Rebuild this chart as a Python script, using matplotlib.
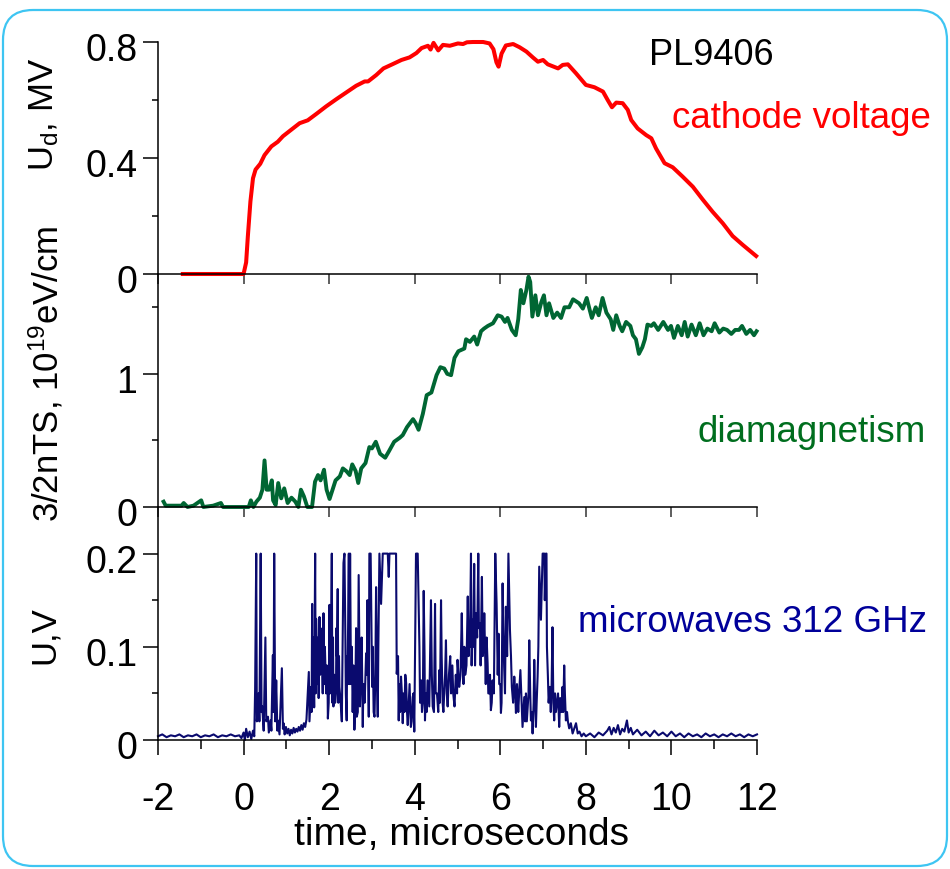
import matplotlib
matplotlib.use("Agg")
import matplotlib.pyplot as plt
from matplotlib.patches import FancyBboxPatch
import matplotlib.transforms as mtransforms

plt.rcParams['font.family'] = ['Liberation Sans', 'DejaVu Sans']
plt.rcParams['mathtext.fontset'] = 'custom'
plt.rcParams['mathtext.rm'] = 'Liberation Sans'
plt.rcParams['mathtext.it'] = 'Liberation Sans:italic'
plt.rcParams['mathtext.default'] = 'regular'

# ---------------- data ----------------
x_ticks = [-2, 0, 2, 4, 6, 8, 10, 12]
x_tick_labels = ["-2", "0", "2", "4", "6", "8", "10", "12"]

cv_time = [-1.42, 0.0, 0.06, 0.1, 0.16, 0.22, 0.28, 0.39, 0.49, 0.65,
           0.8, 0.92, 1.11, 1.31, 1.5, 1.7, 1.93, 2.17, 2.4, 2.63,
           2.83, 2.91, 3.1, 3.27, 3.49, 3.69, 3.88, 4.04, 4.16, 4.31,
           4.37, 4.44, 4.55, 4.66, 4.82, 5.01, 5.13, 5.22, 5.36, 5.6,
           5.75, 5.84, 5.91, 5.96, 6.03, 6.13, 6.3, 6.45, 6.61, 6.76,
           6.88, 7.0, 7.11, 7.35, 7.46, 7.58, 7.77, 8.0, 8.2, 8.4,
           8.51, 8.61, 8.71, 8.86, 8.98, 9.06, 9.21, 9.41, 9.53, 9.64,
           9.84, 10.03, 10.26, 10.5, 10.73, 10.96, 11.2, 11.43, 11.67, 11.98]
cv_mv = [0, 0, 0.04, 0.13, 0.25, 0.33, 0.36, 0.38, 0.41, 0.44,
         0.456, 0.475, 0.497, 0.52, 0.53, 0.552, 0.578, 0.603, 0.626, 0.649,
         0.664, 0.664, 0.686, 0.709, 0.724, 0.738, 0.747, 0.762, 0.779, 0.787,
         0.774, 0.797, 0.771, 0.79, 0.787, 0.795, 0.793, 0.799, 0.8, 0.8,
         0.795, 0.775, 0.73, 0.715, 0.76, 0.788, 0.793, 0.782, 0.767, 0.747,
         0.732, 0.738, 0.723, 0.709, 0.721, 0.723, 0.692, 0.652, 0.644, 0.629,
         0.6, 0.575, 0.591, 0.589, 0.566, 0.531, 0.502, 0.479, 0.468, 0.433,
         0.382, 0.368, 0.336, 0.301, 0.257, 0.215, 0.175, 0.131, 0.1, 0.062]

dia_time = [-1.87, -1.82, -1.45, -1.4, -1.31, -1.17, -0.99, -0.94, -0.71, -0.53,
            -0.48, 0.12, 0.17, 0.23, 0.3, 0.38, 0.44, 0.49, 0.54, 0.6,
            0.66, 0.69, 0.75, 0.81, 0.88, 0.95, 1.03, 1.12, 1.21, 1.28,
            1.34, 1.41, 1.49, 1.6, 1.67, 1.74, 1.8, 1.88, 1.94, 2.01,
            2.08, 2.15, 2.25, 2.32, 2.4, 2.48, 2.54, 2.62, 2.68, 2.75,
            2.85, 2.94, 3.0, 3.09, 3.19, 3.31, 3.4, 3.52, 3.65, 3.72,
            3.82, 3.96, 4.02, 4.09, 4.19, 4.28, 4.39, 4.51, 4.6, 4.69,
            4.76, 4.85, 4.93, 5.02, 5.16, 5.2, 5.29, 5.39, 5.46, 5.55,
            5.62, 5.71, 5.83, 5.94, 6.03, 6.11, 6.17, 6.27, 6.36, 6.42,
            6.48, 6.54, 6.61, 6.66, 6.7, 6.75, 6.82, 6.88, 6.96, 7.02,
            7.08, 7.14, 7.24, 7.33, 7.42, 7.5, 7.61, 7.7, 7.84, 7.93,
            8.02, 8.09, 8.14, 8.23, 8.3, 8.39, 8.48, 8.58, 8.64, 8.71,
            8.79, 8.85, 8.94, 9.04, 9.1, 9.17, 9.24, 9.32, 9.38, 9.44,
            9.53, 9.59, 9.69, 9.81, 9.92, 9.99, 10.06, 10.15, 10.24, 10.31,
            10.38, 10.47, 10.57, 10.66, 10.75, 10.84, 10.94, 11.01, 11.12, 11.21,
            11.3, 11.4, 11.49, 11.58, 11.65, 11.75, 11.84, 11.93, 11.99]
dia_energy = [0.04, 0.01, 0.01, 0.03, 0.0, 0.01, 0.05, 0.0, 0.01, 0.03,
              0.0, 0.0, 0.05, 0.0, 0.04, 0.07, 0.13, 0.35, 0.13, 0.13,
              0.2, 0.05, 0.015, 0.18, 0.065, 0.14, 0.03, 0.07, 0.04, 0.0,
              0.13, 0.08, 0.0, 0.0, 0.19, 0.24, 0.2, 0.28, 0.13, 0.06,
              0.13, 0.2, 0.23, 0.29, 0.27, 0.24, 0.32, 0.27, 0.18, 0.29,
              0.33, 0.45, 0.44, 0.49, 0.4, 0.37, 0.42, 0.49, 0.52, 0.54,
              0.6, 0.66, 0.63, 0.58, 0.7, 0.84, 0.86, 0.99, 1.05, 1.04,
              1.0, 0.99, 1.12, 1.17, 1.19, 1.26, 1.24, 1.28, 1.22, 1.32,
              1.34, 1.36, 1.38, 1.44, 1.43, 1.39, 1.42, 1.33, 1.29, 1.41,
              1.63, 1.53, 1.63, 1.73, 1.69, 1.43, 1.59, 1.44, 1.54, 1.59,
              1.44, 1.53, 1.42, 1.46, 1.42, 1.5, 1.5, 1.56, 1.53, 1.49,
              1.57, 1.48, 1.42, 1.5, 1.44, 1.57, 1.46, 1.41, 1.33, 1.44,
              1.36, 1.32, 1.39, 1.36, 1.29, 1.26, 1.15, 1.2, 1.26, 1.37,
              1.36, 1.38, 1.33, 1.39, 1.33, 1.36, 1.27, 1.36, 1.29, 1.39,
              1.28, 1.37, 1.29, 1.38, 1.29, 1.34, 1.32, 1.38, 1.31, 1.34,
              1.33, 1.3, 1.33, 1.33, 1.36, 1.3, 1.33, 1.29, 1.32]

mw_time = [-2.0, -1.9, -1.8, -1.7, -1.6, -1.5, -1.4, -1.3, -1.2, -1.1,
           -1.0, -0.9, -0.8, -0.7, -0.6, -0.5, -0.4, -0.3, -0.2, -0.1,
           -0.05, 0.0, 0.03, 0.06, 0.1, 0.14, 0.18, 0.22, 0.25, 0.27,
           0.296, 0.31, 0.35, 0.37, 0.40, 0.42, 0.436, 0.47, 0.51, 0.53,
           0.57, 0.59, 0.63, 0.65, 0.685, 0.70, 0.716, 0.74, 0.763, 0.79,
           0.80, 0.84, 0.895, 0.92, 0.934, 0.96, 0.99, 1.02, 1.05, 1.08,
           1.11, 1.14, 1.17, 1.2, 1.23, 1.26, 1.29, 1.32, 1.35, 1.38,
           1.41, 1.44, 1.47, 1.525, 1.54, 1.58, 1.59, 1.603, 1.61, 1.634,
           1.673, 1.685, 1.71, 1.725, 1.774, 1.79, 1.81, 1.83, 1.868, 1.88,
           1.93, 1.945, 1.97, 2.008, 2.02, 2.062, 2.075, 2.10, 2.12, 2.16,
           2.18, 2.20, 2.215, 2.24, 2.296, 2.31, 2.335, 2.358, 2.38, 2.41,
           2.43, 2.46, 2.47, 2.49, 2.53, 2.55, 2.59, 2.61, 2.646, 2.69,
           2.72, 2.74, 2.786, 2.80, 2.864, 2.895, 2.926, 2.94, 2.97, 3.004,
           3.06, 3.08, 3.097, 3.136, 3.175, 3.214, 3.253, 3.30, 3.37, 3.393,
           3.41, 3.5, 3.564, 3.58, 3.626, 3.64, 3.68, 3.72, 3.74, 3.80,
           3.837, 3.86, 3.91, 3.953, 3.99, 4.03, 4.07, 4.11, 4.125, 4.15,
           4.17, 4.21, 4.24, 4.26, 4.30, 4.34, 4.38, 4.42, 4.475, 4.49,
           4.52, 4.576, 4.59, 4.615, 4.654, 4.69, 4.73, 4.77, 4.80, 4.85,
           4.88, 4.93, 4.96, 5.0, 5.04, 5.10, 5.12, 5.16, 5.18, 5.24,
           5.26, 5.276, 5.315, 5.354, 5.39, 5.43, 5.486, 5.50, 5.525, 5.57,
           5.59, 5.626, 5.704, 5.743, 5.78, 5.82, 5.883, 5.914, 5.96, 5.975,
           6.015, 6.054, 6.09, 6.13, 6.19, 6.226, 6.27, 6.327, 6.366, 6.39,
           6.44, 6.47, 6.52, 6.56, 6.58, 6.64, 6.677, 6.716, 6.755, 6.794,
           6.833, 6.872, 6.91, 6.95, 6.99, 7.03, 7.04, 7.066, 7.08, 7.113,
           7.16, 7.18, 7.22, 7.26, 7.28, 7.315, 7.377, 7.40, 7.455, 7.494,
           7.533, 7.56, 7.61, 7.65, 7.69, 7.77, 7.81, 7.85, 7.9, 7.95,
           8.0, 8.1, 8.2, 8.3, 8.4, 8.5, 8.55, 8.6, 8.65, 8.7,
           8.75, 8.8, 8.85, 8.9, 8.96, 9.0, 9.05, 9.1, 9.2, 9.3,
           9.4, 9.5, 9.6, 9.7, 9.8, 9.9, 10.0, 10.1, 10.2, 10.3,
           10.4, 10.5, 10.6, 10.7, 10.8, 10.9, 11.0, 11.1, 11.2, 11.3,
           11.4, 11.5, 11.6, 11.7, 11.8, 11.9, 12.0]
mw_volt = [.004, .006, .003, .005, .004, .006, .003, .005, .004, .006,
           .003, .005, .004, .006, .003, .005, .004, .006, .004, .005,
           .002, .008, .0, .012, .003, .009, .001, .01, .004, .054,
           .2, .02, .05, .02, .2, .03, .036, .01, .11, .02,
           .025, .008, .021, .01, .091, .03, .2, .02, .064, .01,
           .021, .006, .077, .012, .018, .006, .014, .007, .012, .005,
           .011, .007, .013, .008, .012, .009, .014, .01, .016, .011,
           .018, .014, .022, .073, .02, .057, .03, .146, .04, .086,
           .2, .05, .1, .06, .132, .07, .086, .1, .136, .06,
           .05, .08, .023, .145, .05, .2, .04, .036, .07, .05,
           .09, .162, .04, .057, .02, .08, .19, .2, .107, .021,
           .06, .2, .06, .2, .1, .03, .011, .04, .025, .177,
           .036, .07, .014, .06, .093, .15, .025, .2, .2, .057,
           .025, .07, .164, .025, .2, .146, .2, .2, .2, .175,
           .2, .2, .2, .071, .021, .06, .068, .018, .05, .061,
           .016, .04, .014, .046, .009, .2, .2, .1, .04, .064,
           .03, .16, .021, .05, .064, .036, .15, .036, .146, .05,
           .05, .075, .04, .15, .039, .05, .107, .036, .07, .05,
           .08, .036, .07, .086, .057, .136, .08, .1, .07, .154,
           .09, .118, .2, .129, .189, .136, .2, .12, .125, .175,
           .09, .136, .082, .05, .032, .064, .2, .146, .114, .06,
           .029, .168, .079, .143, .2, .118, .057, .068, .029, .06,
           .05, .075, .014, .046, .02, .036, .107, .021, .007, .086,
           .014, .068, .186, .129, .2, .2, .15, .2, .2, .068,
           .057, .03, .121, .021, .05, .036, .014, .045, .057, .08,
           .021, .03, .0125, .018, .007, .018, .007, .009, .004, .007,
           .004, .007, .003, .008, .005, .01, .014, .006, .013, .008,
           .016, .006, .012, .009, .021, .008, .013, .006, .011, .005,
           .009, .004, .01, .005, .008, .004, .009, .004, .007, .003,
           .007, .004, .006, .003, .007, .004, .006, .003, .006, .004,
           .007, .004, .006, .003, .006, .004, .006]

mw_band_time = [1.62, 1.65, 1.695, 1.74, 1.755, 1.80, 1.85, 1.90, 1.96, 1.99,
                2.04, 2.09, 2.14, 2.17, 2.23, 2.27, 2.32, 2.39, 2.42, 2.51,
                2.57, 2.63, 2.67, 2.71, 2.76, 2.83, 2.88, 3.02, 3.04, 3.12,
                3.15, 3.61, 3.66, 3.70, 3.76, 3.78, 3.82, 3.88, 3.93, 3.97,
                4.19, 4.23, 4.28, 4.32, 4.36, 4.40, 4.45, 4.55, 4.63, 4.67,
                4.71, 4.75, 4.83, 4.90, 4.99, 5.07, 5.14, 5.21, 5.29, 5.33,
                5.37, 5.41, 5.46, 5.54, 5.61, 5.66, 5.68, 5.72, 5.76, 5.80,
                5.85, 5.94, 6.00, 6.03, 6.07, 6.11, 6.16, 6.25, 6.30, 6.35,
                6.42, 6.50, 6.54, 6.60, 6.62, 6.66, 6.70, 6.74, 6.78, 6.81,
                6.85, 6.89, 7.09, 7.13, 7.20, 7.24, 7.30, 7.35, 7.43, 7.47,
                7.51, 7.58]
mw_band_volt = [.11, .035, .13, .11, .045, .12, .05, .1, .075, .04,
                .09, .11, .04, .12, .09, .04, .13, .05, .09, .06,
                .08, .12, .03, .09, .11, .04, .07, .1, .03, .06,
                .1, .09, .03, .05, .03, .07, .03, .06, .02, .05,
                .04, .09, .03, .05, .09, .07, .03, .03, .09, .03,
                .07, .05, .09, .05, .05, .07, .06, .08, .1, .08,
                .1, .08, .11, .08, .1, .06, .11, .05, .07, .04,
                .05, .07, .06, .04, .12, .05, .09, .09, .04, .05,
                .03, .04, .03, .05, .02, .05, .05, .03, .04, .05,
                .04, .1, .1, .04, .06, .04, .03, .05, .03, .03,
                .05, .02]

# ---------------- figure ----------------
W, H = 950, 869
fig = plt.figure(figsize=(W / 100, H / 100), dpi=100)

def fx(x):
    return x / W

def fy(y):
    return 1 - y / H

# rounded frame
frame = FancyBboxPatch((0.03, 0.03), 9.44, 8.56,
                       boxstyle="round,pad=0,rounding_size=0.3",
                       transform=fig.dpi_scale_trans, fill=False,
                       edgecolor='#3ec5f2', linewidth=1.6)
fig.patches.append(frame)

x0, x1 = 158, 757
rows = [(42, 274), (274, 507), (507, 740)]
axes = []
for (ytop, ybot) in rows:
    ax = fig.add_axes([fx(x0), fy(ybot), fx(x1) - fx(x0), (ybot - ytop) / H])
    ax.patch.set_alpha(0)
    for s in ['top', 'right']:
        ax.spines[s].set_visible(False)
    for s in ['left', 'bottom']:
        ax.spines[s].set_linewidth(1.1)
    ax.set_xlim(-2, 12)
    axes.append(ax)

ax1, ax2, ax3 = axes
TICKFS = 27

ax1.plot(cv_time, cv_mv, color='#ff0000', lw=2.9, clip_on=False, solid_joinstyle='round')
ax1.set_ylim(0, 0.8)
ax1.set_yticks([0, 0.4, 0.8])
ax1.set_yticklabels(["0", "0.4", "0.8"])
ax1.set_yticks([0.2, 0.6], minor=True)

ax2.plot(dia_time, dia_energy, color='#006633', lw=2.8, clip_on=False, solid_joinstyle='round')
ax2.set_ylim(0, 1.75)
ax2.set_yticks([0, 1])
ax2.set_yticklabels(["0", "1"])
ax2.set_yticks([0.5, 1.5], minor=True)

# merge the read samples in time order
mw_pairs = sorted(zip(mw_time + mw_band_time, mw_volt + mw_band_volt))
mw_t = [p[0] for p in mw_pairs]
mw_v = [p[1] for p in mw_pairs]
ax3.plot(mw_t, mw_v, color='#0a0a6e', lw=1.5, clip_on=False)
ax3.set_ylim(0, 0.25)
ax3.set_yticks([0, 0.1, 0.2])
ax3.set_yticklabels(["0", "0.1", "0.2"])
ax3.set_yticks([0.05, 0.15], minor=True)

for ax in axes:
    ax.tick_params(axis='y', which='major', direction='out', length=11, width=1.1,
                   labelsize=TICKFS, pad=4)
    ax.tick_params(axis='y', which='minor', direction='out', length=4.5, width=1.1)
    offset = mtransforms.ScaledTranslation(0, -5 / 100, fig.dpi_scale_trans)
    for lab in ax.get_yticklabels():
        lab.set_transform(lab.get_transform() + offset)

for ax in (ax1, ax2):
    ax.set_xticks(x_ticks)
    ax.tick_params(axis='x', which='major', direction='out', length=7, width=1.1,
                   labelbottom=False, color='#333333')

ax3.set_xticks(x_ticks)
ax3.set_xticklabels(x_tick_labels)
ax3.set_xticks([-1, 1, 3, 5, 7, 9, 11], minor=True)
ax3.tick_params(axis='x', which='major', direction='out', length=11, width=1.1,
                labelsize=TICKFS, pad=19)
ax3.tick_params(axis='x', which='minor', direction='out', length=6.5, width=1.1)

# axis titles
YFS = 25
fig.text(fx(44), fy(114), "U$_d$, MV", rotation=90, ha='center', va='center', fontsize=YFS)
fig.text(fx(46), fy(374), "3/2nTS, 10$^{19}$eV/cm", rotation=90, ha='center', va='center', fontsize=YFS)
fig.text(fx(44), fy(635), "U,V", rotation=90, ha='center', va='center', fontsize=YFS)
fig.text(fx(462), fy(845), "time, microseconds", ha='center', va='baseline', fontsize=28)

# annotations
fig.text(fx(711), fy(65), "PL9406", ha='center', va='baseline', fontsize=26, color='black')
fig.text(fx(801), fy(128), "cathode voltage", ha='center', va='baseline', fontsize=26.5, color='#ff0000')
fig.text(fx(812), fy(442), "diamagnetism", ha='center', va='baseline', fontsize=26.5, color='#006e1e')
fig.text(fx(753), fy(632), "microwaves 312 GHz", ha='center', va='baseline', fontsize=26.5, color='#00009a')

fig.savefig("out.png", dpi=100)
